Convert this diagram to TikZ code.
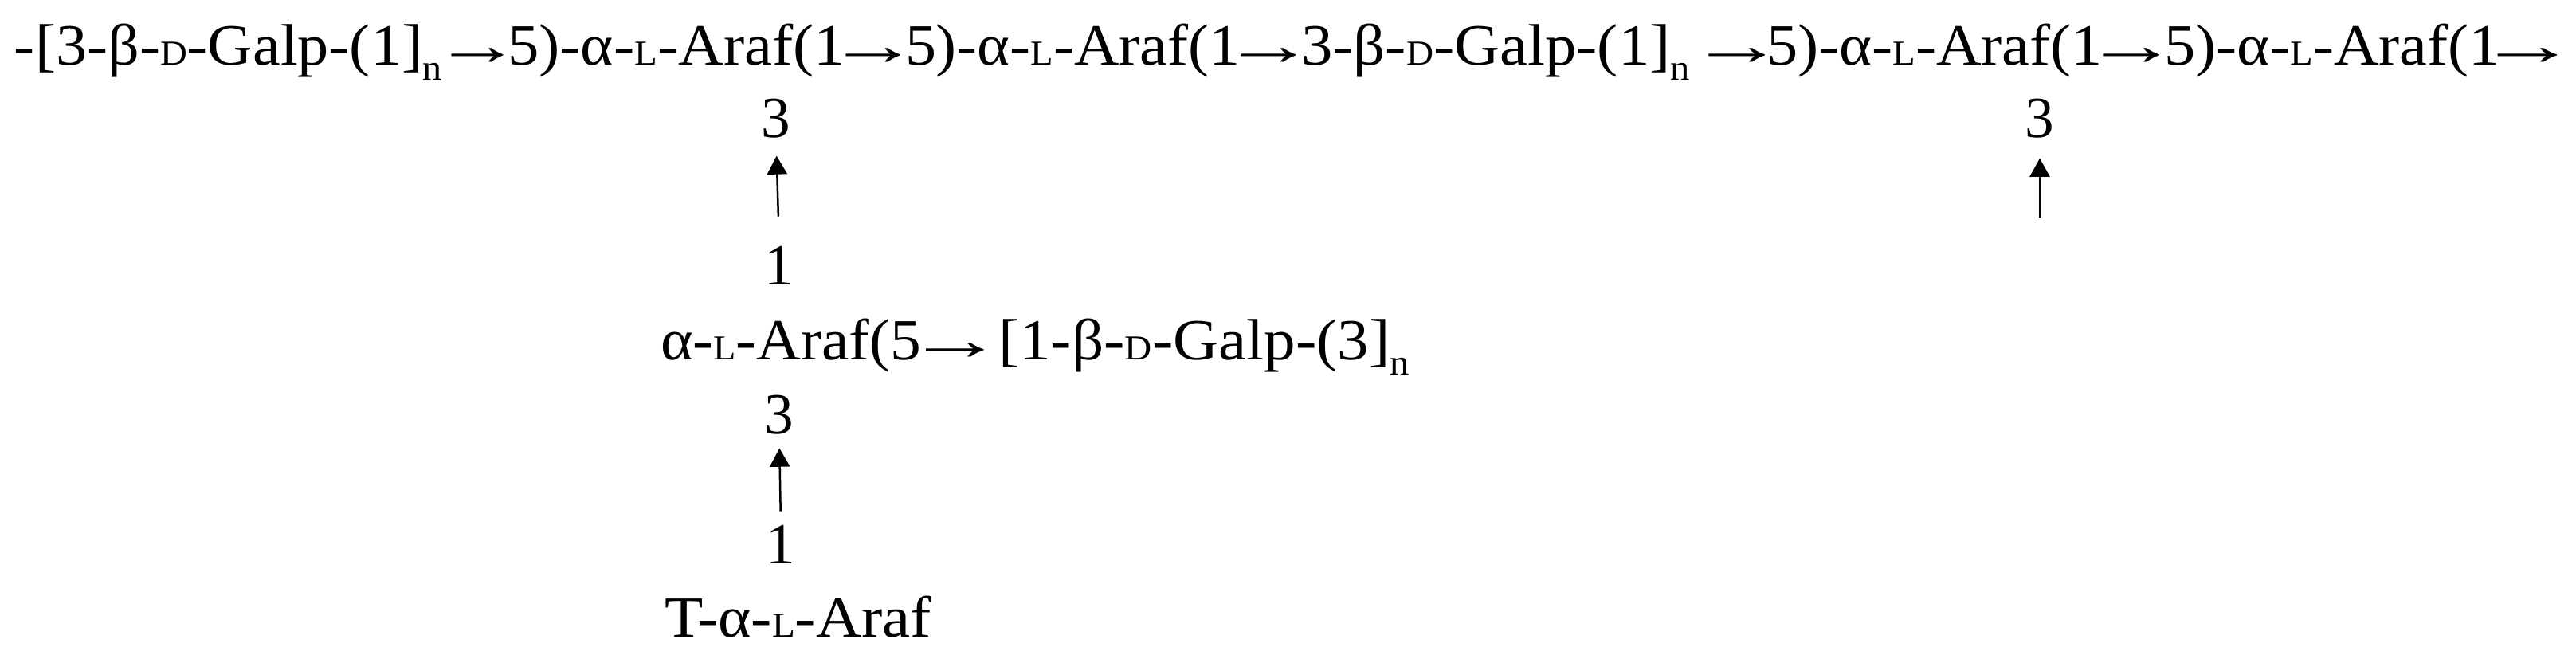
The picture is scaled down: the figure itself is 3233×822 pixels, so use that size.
\documentclass[tikz,border=0pt]{standalone}
\usepackage{fontspec}
\usepackage{graphicx}
\setmainfont{Liberation Serif}
\usetikzlibrary{arrows.meta}
\newcommand\smc[1]{{\fontsize{7.0pt}{7pt}\selectfont #1}}
\newcommand\subn{\raisebox{-2.9pt}{\fontsize{7.2pt}{7pt}\selectfont n}}
\newcommand\fitw[2]{\resizebox{#1}{\height}{#2}}
\newcommand\inkarr{\kern-\XeTeXglyphbounds1 \XeTeXcharglyph"2192 →\kern-\XeTeXglyphbounds3 \XeTeXcharglyph"2192 }
\newcommand\arr[1]{\fitw{#1}{\inkarr}}
\begin{document}
\begin{tikzpicture}[x=0.16pt,y=-0.16pt,
  txt/.style={inner sep=0pt,outer sep=0pt,anchor=base west,font=\fontsize{11.7pt}{14pt}\selectfont},
  num/.style={inner sep=0pt,outer sep=0pt,anchor=base,font=\fontsize{11.7pt}{14pt}\selectfont},
  link/.style={line width=0.4pt,-{Triangle[width=4pt,length=3.7pt]}}]
\useasboundingbox (0,0) rectangle (3233,822);
% main chain
\node[txt] (s1) at (18,82)   {\fitw{85.8pt}{-[3-β-\smc{D}-Galp-(1]\subn}};
\node[txt] (a1) at (567,82)  {\arr{10.4pt}};
\node[txt] (s2) at (637,82)  {\fitw{67.84pt}{5)-α-\smc{L}-Araf(1}};
\node[txt] (a2) at (1062,82) {\arr{10.9pt}};
\node[txt] (s3) at (1136,82) {\fitw{67.2pt}{5)-α-\smc{L}-Araf(1}};
\node[txt] (a3) at (1557,82) {\arr{11.1pt}};
\node[txt] (s4) at (1633,82) {\fitw{78.08pt}{3-β-\smc{D}-Galp-(1]\subn}};
\node[txt] (a4) at (2145,82) {\arr{11.3pt}};
\node[txt] (s5) at (2217,82) {\fitw{67.52pt}{5)-α-\smc{L}-Araf(1}};
\node[txt] (a5) at (2640,82) {\arr{11.3pt}};
\node[txt] (s6) at (2716,82) {\fitw{67.52pt}{5)-α-\smc{L}-Araf(1}};
\node[txt] (a6) at (3135,82) {\arr{11.9pt}};
% branch
\node[num] (t3a) at (974,173) {3};
\node[num] (t1a) at (978,358) {1};
\node[txt] (mid) at (829,452) {\fitw{52.32pt}{α-\smc{L}-Araf(5}};
\node[txt] (midarr) at (1162,452) {\arr{11.6pt}};
\node[txt] (midb) at (1253,452) {\fitw{82.56pt}{[1-β-\smc{D}-Galp-(3]\subn}};
\node[num] (m3) at (978,545) {3};
\node[num] (m1) at (980,708) {1};
\node[txt] (term) at (834,800) {\fitw{53.6pt}{T-α-\smc{L}-Araf}};
\node[num] (t3b) at (2560,173) {3};
\coordinate (rfree) at (2560,273);
\draw[link,shorten <=6.1pt,shorten >=3.5pt] (t1a.north) -- (t3a.south);
\draw[link,shorten <=2.9pt,shorten >=2.7pt] (m1.north) -- (m3.south);
\draw[link,shorten >=4pt] (rfree) -- (t3b.south);
\end{tikzpicture}
\end{document}
